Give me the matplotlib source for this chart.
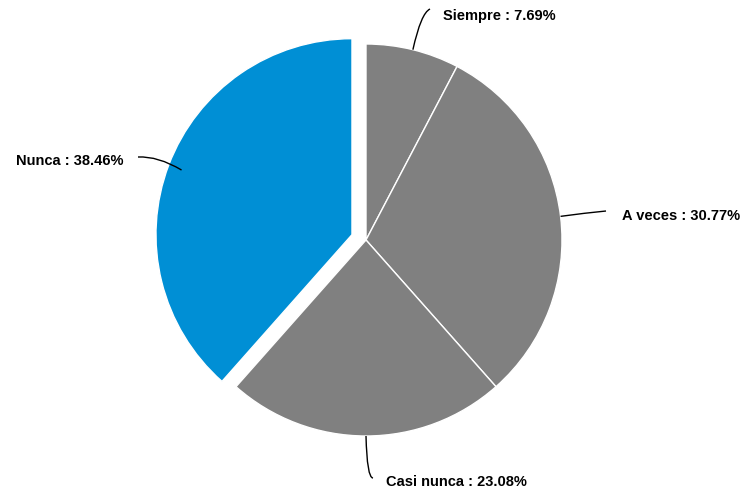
import numpy as np
import matplotlib

matplotlib.use("Agg")
import matplotlib.pyplot as plt
from matplotlib.path import Path
from matplotlib.patches import PathPatch

# data
labels = ["Siempre", "A veces", "Casi nunca", "Nunca"]
values = [7.69, 30.77, 23.08, 38.46]
colors = ["#808080", "#808080", "#808080", "#008FD5"]
explode = [0, 0, 0, 15]

W, H = 745, 497
CX, CY, R = 366, 257, 196

# label layout (pixel space, y up): leader control point, end, text anchor
leader = {
    "Siempre": dict(ctrl=(421, 484), end=(430, 488), text=(443, 481), ha="left"),
    "A veces": dict(ctrl=(585, 284), end=(606, 286), text=(622, 281), ha="left"),
    "Casi nunca": dict(ctrl=(367, 19), end=(373, 19), text=(386, 15), ha="left"),
    "Nunca": dict(ctrl=(158, 341), end=(138, 340), text=(123, 336), ha="right"),
}

plt.rcParams["font.family"] = ["Liberation Sans", "DejaVu Sans"]
fig = plt.figure(figsize=(W / 100, H / 100), dpi=100)
ax = fig.add_axes([0, 0, 1, 1])

# explode is in data units here (pixels)
ax.pie(values, colors=colors, startangle=90, counterclock=False, center=(CX, CY),
       radius=R, explode=explode, frame=True,
       wedgeprops=dict(edgecolor="white", linewidth=1.0))
ax.set_xlim(0, W)
ax.set_ylim(0, H)
ax.set_aspect("equal")
ax.axis("off")

start = 90.0
for lab, v, ex in zip(labels, values, explode):
    span = v / 100 * 360
    mid = np.deg2rad(start - span / 2)
    start -= span
    cx = CX + ex * np.cos(mid)
    cy = CY + ex * np.sin(mid)
    rr = R * (0.93 if ex else 1.0)
    p0 = (cx + rr * np.cos(mid), cy + rr * np.sin(mid))
    cfg = leader[lab]
    path = Path([p0, cfg["ctrl"], cfg["end"]], [Path.MOVETO, Path.CURVE3, Path.CURVE3])
    ax.add_patch(PathPatch(path, facecolor="none", edgecolor="black", lw=1.0))
    ax.text(cfg["text"][0], cfg["text"][1], f"{lab} : {v:.2f}%", ha=cfg["ha"],
            va="center", fontsize=10.5, fontweight="bold", color="#000000")

fig.savefig("out.png", dpi=100)
